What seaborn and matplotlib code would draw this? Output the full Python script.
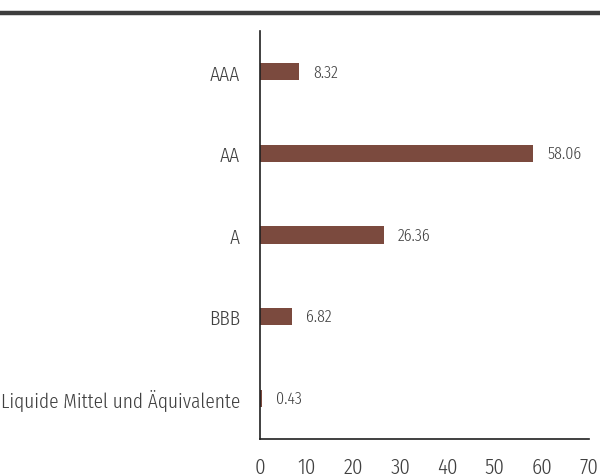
import matplotlib
matplotlib.use("Agg")
import matplotlib.pyplot as plt
import seaborn as sns
import pandas as pd

categories = ["AAA", "AA", "A", "BBB", "Liquide Mittel und Äquivalente"]
values = [8.32, 58.06, 26.36, 6.82, 0.43]
value_labels = ["8.32", "58.06", "26.36", "6.82", "0.43"]
xticks = [0, 10, 20, 30, 40, 50, 60, 70]

sns.set_theme(style="white")
plt.rcParams['font.family'] = ['Fira Sans Extra Condensed', 'DejaVu Sans']
plt.rcParams['font.weight'] = 300

df = pd.DataFrame({"cat": categories, "val": values})

fig = plt.figure(figsize=(6.0, 4.77), dpi=100)
ax = fig.add_axes([259.5/600, 1-440/477, (589-259.5)/600, (440-32)/477])
sns.barplot(data=df, y="cat", x="val", orient="h", color="#7b4a3e",
            width=0.21, ax=ax, saturation=1, edgecolor="none")

for i, (v, lab) in enumerate(zip(values, value_labels)):
    ax.text(v + 3.1, i, lab, va="center", ha="left", fontsize=12.5,
            color="#404040", fontweight=300)

ax.set_xlim(0, 70)
ax.set_ylim(4.5, -0.5)
ax.set_xticks(xticks)
ax.set_xticklabels([str(t) for t in xticks])
ax.set_xlabel("")
ax.set_ylabel("")
ax.tick_params(axis="both", length=0, colors="#404040")
ax.tick_params(axis="x", pad=12, labelsize=16.5)
ax.tick_params(axis="y", pad=14, labelsize=15.2)
for lab in ax.get_xticklabels() + ax.get_yticklabels():
    lab.set_fontweight(300)
for s in ["top", "right"]:
    ax.spines[s].set_visible(False)
for s in ["left", "bottom"]:
    ax.spines[s].set_color("#202020")
    ax.spines[s].set_linewidth(1.2)

fig.add_artist(plt.Line2D([0, 1], [1-14/477, 1-14/477], transform=fig.transFigure,
                          color="#3d3d3d", linewidth=3.2))

fig.savefig("out.png", dpi=100)
